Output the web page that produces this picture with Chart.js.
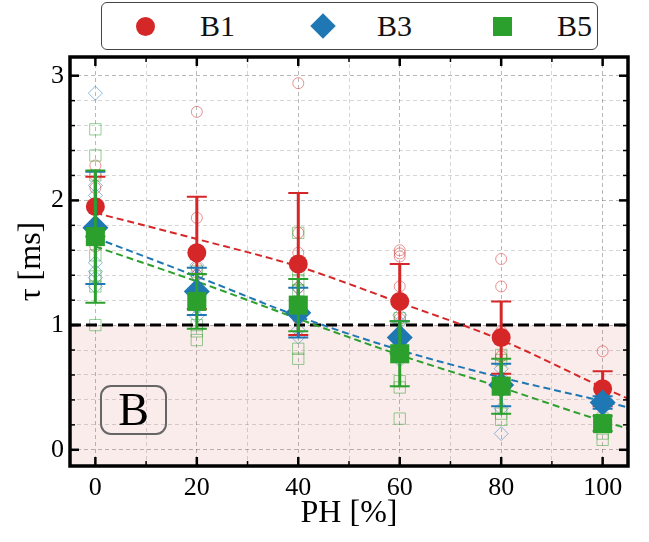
<!DOCTYPE html>
<html>
<head>
<meta charset="utf-8">
<script src="https://cdn.jsdelivr.net/npm/chart.js@4"></script>
<style>
    body { margin: 0; background: #fff; }
    #wrap { position: relative; width: 649px; height: 542px; }
    #legend {
        position: absolute; left: 101px; top: 2px; width: 495px; height: 46px;
        border: 1.2px solid #444; border-radius: 6px; background: #fff;
        font-family: "Liberation Serif", serif; font-size: 30px; color: #111;
    }
    #legend span { position: absolute; top: 6px; }
    .mk { position: absolute; }
    #tag {
        position: absolute; left: 100px; top: 385px; width: 63px; height: 46px;
        border: 2.5px solid #666; border-radius: 11px;
        font-family: "Liberation Serif", serif; font-size: 46px; line-height: 46px;
        text-align: center; color: #000;
    }
</style>
</head>
<body>
<div id="wrap">
    <canvas id="chart" width="649" height="542"></canvas>
    <div id="legend">
        <div class="mk" style="left:34px;top:14px;width:19px;height:19px;border-radius:50%;background:#d62728"></div>
        <span style="left:98px">B1</span>
        <div class="mk" style="left:212px;top:14px;width:18px;height:18px;background:#1f77b4;transform:rotate(45deg)"></div>
        <span style="left:275px">B3</span>
        <div class="mk" style="left:391px;top:14px;width:19px;height:19px;background:#2ca02c"></div>
        <span style="left:455px">B5</span>
    </div>
    <div id="tag">B</div>
</div>
<script>
// PH levels and mean lifetimes (ms) with error bars
const ph = [0, 20, 40, 60, 80, 100];

const b1Mean = [1.95, 1.58, 1.49, 1.19, 0.90, 0.49];
const b1Err  = [0.24, 0.45, 0.57, 0.30, 0.29, 0.14];
const b3Mean = [1.78, 1.27, 1.10, 0.90, 0.52, 0.38];
const b3Err  = [0.45, 0.19, 0.20, 0.13, 0.17, 0.05];
const b5Mean = [1.71, 1.19, 1.16, 0.77, 0.51, 0.21];
const b5Err  = [0.53, 0.22, 0.21, 0.26, 0.22, 0.06];

// individual runs (hollow markers)
const b1PtsX = [0, 0, 0, 0, 0, 20, 20, 20, 20, 20, 40, 40, 40, 40, 40, 60, 60, 60, 60, 60, 60, 80, 80, 80, 80, 100, 100, 100];
const b1PtsY = [2.28, 2.20, 2.10, 1.95, 1.63, 2.71, 1.86, 1.46, 1.40, 1.30, 2.94, 1.74, 1.58, 1.30, 1.05, 1.60, 1.575, 1.55, 1.31, 1.05, 0.90, 1.53, 1.31, 0.95, 0.75, 0.79, 0.50, 0.40];
const b3PtsX = [0, 0, 0, 0, 0, 0, 0, 20, 20, 20, 20, 40, 40, 40, 40, 60, 60, 60, 60, 80, 80, 80, 80, 100, 100, 100];
const b3PtsY = [2.86, 2.12, 2.04, 1.50, 1.43, 1.38, 1.31, 1.48, 1.40, 1.14, 1.07, 1.30, 1.10, 0.96, 0.905, 1.08, 1.02, 0.85, 0.72, 0.65, 0.58, 0.33, 0.13, 0.45, 0.40, 0.33];
const b5PtsX = [0, 0, 0, 0, 0, 0, 0, 20, 20, 20, 20, 20, 40, 40, 40, 40, 40, 40, 60, 60, 60, 60, 80, 80, 80, 80, 100, 100, 100];
const b5PtsY = [2.57, 2.36, 2.20, 1.56, 1.39, 1.31, 1.00, 1.43, 1.25, 1.00, 0.95, 0.88, 1.74, 1.44, 1.36, 1.28, 0.81, 0.73, 1.055, 0.55, 0.50, 0.25, 0.76, 0.72, 0.29, 0.24, 0.25, 0.13, 0.08];

// fitted trend lines
const fitX  = [0, 20, 40, 60, 80, 100, 105];
const b1Fit = [1.90, 1.69, 1.47, 1.18, 0.88, 0.50, 0.41];
const b3Fit = [1.70, 1.39, 1.07, 0.80, 0.58, 0.39, 0.34];
const b5Fit = [1.63, 1.35, 1.05, 0.76, 0.50, 0.23, 0.17];

const threshold = 1;
const xRange = [-5, 105];
const yRange = [-0.13, 3.15];
const xTicks = [0, 10, 20, 30, 40, 50, 60, 70, 80, 90, 100];
const xLabels = [0, 20, 40, 60, 80, 100];
const yTicks = [0, 0.2, 0.4, 0.6, 0.8, 1, 1.2, 1.4, 1.6, 1.8, 2, 2.2, 2.4, 2.6, 2.8, 3];
const yLabels = [0, 1, 2, 3];

const RED = '#d62728', BLUE = '#1f77b4', GREEN = '#2ca02c';

const pts = (xs, ys) => xs.map((x, i) => ({ x, y: ys[i] }));
const isMajorX = v => xLabels.includes(v);
const isMajorY = v => yLabels.some(l => Math.abs(l - v) < 1e-6);

const errorBars = {
    id: 'errorBars',
    beforeDatasetDraw(chart, args) {
        const ds = chart.data.datasets[args.index];
        if (!ds.errors) return;
        const { ctx, scales: { x, y } } = chart;
        ctx.save();
        ctx.strokeStyle = ds.backgroundColor;
        ds.data.forEach((p, i) => {
            const px = x.getPixelForValue(p.x);
            const top = y.getPixelForValue(p.y + ds.errors[i]);
            const bot = y.getPixelForValue(p.y - ds.errors[i]);
            ctx.lineWidth = 3;
            ctx.beginPath();
            ctx.moveTo(px, top); ctx.lineTo(px, bot);
            ctx.stroke();
            ctx.lineWidth = 2;
            ctx.beginPath();
            ctx.moveTo(px - 10, top); ctx.lineTo(px + 10, top);
            ctx.moveTo(px - 10, bot); ctx.lineTo(px + 10, bot);
            ctx.stroke();
        });
        ctx.restore();
    },
};

const frame = {
    id: 'frame',
    afterDraw(chart) {
        const { ctx, chartArea: a, scales: { x, y } } = chart;
        ctx.save();
        ctx.strokeStyle = '#000';
        const seg = (x1, y1, x2, y2) => { ctx.beginPath(); ctx.moveTo(x1, y1); ctx.lineTo(x2, y2); ctx.stroke(); };
        x.ticks.forEach(t => {
            const px = x.getPixelForValue(t.value);
            const major = isMajorX(t.value);
            const len = major ? 9 : 5;
            ctx.lineWidth = major ? 2.5 : 1.5;
            seg(px, a.bottom, px, a.bottom - len);
            seg(px, a.top, px, a.top + len);
        });
        y.ticks.forEach(t => {
            const py = y.getPixelForValue(t.value);
            const major = isMajorY(t.value);
            const len = major ? 9 : 5;
            ctx.lineWidth = major ? 2.5 : 1.5;
            seg(a.left, py, a.left + len, py);
            seg(a.right, py, a.right - len, py);
        });
        ctx.lineWidth = 3.5;
        ctx.strokeRect(a.left, a.top, a.right - a.left, a.bottom - a.top);
        ctx.restore();
    },
};

const tickFont = { family: 'Liberation Serif', size: 26 };
const titleFont = { family: 'Liberation Serif', size: 32 };

new Chart(document.getElementById('chart'), {
    type: 'scatter',
    data: {
        datasets: [
            {
                data: pts(xRange, [threshold, threshold]),
                showLine: true, fill: 'start', backgroundColor: 'rgba(214,39,40,0.09)',
                borderWidth: 0, pointRadius: 0, order: 50,
            },
            {
                data: pts(b1PtsX, b1PtsY), pointStyle: 'circle', pointRadius: 5.5,
                borderColor: 'rgba(214,39,40,0.5)', backgroundColor: 'rgba(0,0,0,0)', borderWidth: 1, order: 40,
            },
            {
                data: pts(b3PtsX, b3PtsY), pointStyle: 'rectRot', pointRadius: 7,
                borderColor: 'rgba(31,119,180,0.5)', backgroundColor: 'rgba(0,0,0,0)', borderWidth: 1, order: 39,
            },
            {
                data: pts(b5PtsX, b5PtsY), pointStyle: 'rect', pointRadius: 8,
                borderColor: 'rgba(44,160,44,0.5)', backgroundColor: 'rgba(0,0,0,0)', borderWidth: 1, order: 38,
            },
            {
                data: pts(xRange, [threshold, threshold]), showLine: true,
                borderColor: '#000', borderWidth: 3, borderDash: [11, 5], pointRadius: 0, order: 30,
            },
            {
                data: pts(fitX, b1Fit), showLine: true, cubicInterpolationMode: 'monotone',
                borderColor: RED, borderWidth: 2, borderDash: [7, 4], pointRadius: 0, order: 20,
            },
            {
                data: pts(fitX, b3Fit), showLine: true, cubicInterpolationMode: 'monotone',
                borderColor: BLUE, borderWidth: 2, borderDash: [7, 4], pointRadius: 0, order: 19,
            },
            {
                data: pts(fitX, b5Fit), showLine: true, cubicInterpolationMode: 'monotone',
                borderColor: GREEN, borderWidth: 2, borderDash: [7, 4], pointRadius: 0, order: 18,
            },
            {
                data: pts(ph, b1Mean), errors: b1Err, pointStyle: 'circle', pointRadius: 9.5,
                backgroundColor: RED, borderColor: RED, borderWidth: 0, order: 3,
            },
            {
                data: pts(ph, b3Mean), errors: b3Err, pointStyle: 'rectRot', pointRadius: 13,
                backgroundColor: BLUE, borderColor: BLUE, borderWidth: 0, order: 2,
            },
            {
                data: pts(ph, b5Mean), errors: b5Err, pointStyle: 'rect', pointRadius: 13.5,
                backgroundColor: GREEN, borderColor: GREEN, borderWidth: 0, order: 1,
            },
        ],
    },
    options: {
        responsive: false,
        animation: false,
        layout: { padding: { top: 57, right: 21, left: 0, bottom: 0 } },
        plugins: { legend: { display: false }, tooltip: { enabled: false } },
        scales: {
            x: {
                type: 'linear', min: xRange[0], max: xRange[1],
                afterBuildTicks(s) { s.ticks = xTicks.map(v => ({ value: v })); },
                afterFit(s) { s.height = 76; },
                ticks: {
                    autoSkip: false, maxRotation: 0, padding: 7, color: '#000', font: tickFont,
                    callback: v => (isMajorX(v) ? String(v) : ''),
                },
                grid: {
                    drawTicks: false, lineWidth: 1,
                    color: c => (isMajorX(c.tick.value) ? 'rgba(0,0,0,0.28)' : 'rgba(0,0,0,0.16)'),
                },
                border: { display: false, dash: [4, 3] },
                title: { display: true, text: 'PH [%]', color: '#000', font: titleFont, padding: { top: 0, bottom: 9 } },
            },
            y: {
                type: 'linear', min: yRange[0], max: yRange[1],
                afterBuildTicks(s) { s.ticks = yTicks.map(v => ({ value: v })); },
                afterFit(s) { s.width = 70; },
                ticks: {
                    autoSkip: false, padding: 6, color: '#000', font: tickFont,
                    callback: v => (isMajorY(v) ? String(Math.round(v)) : ''),
                },
                grid: {
                    drawTicks: false, lineWidth: 1,
                    color: c => (isMajorY(c.tick.value) ? 'rgba(0,0,0,0.28)' : 'rgba(0,0,0,0.16)'),
                },
                border: { display: false, dash: [4, 3] },
                title: { display: true, text: 'τ [ms]', color: '#000', font: titleFont, padding: { top: 12, bottom: 0 } },
            },
        },
    },
    plugins: [errorBars, frame],
});
</script>
</body>
</html>
